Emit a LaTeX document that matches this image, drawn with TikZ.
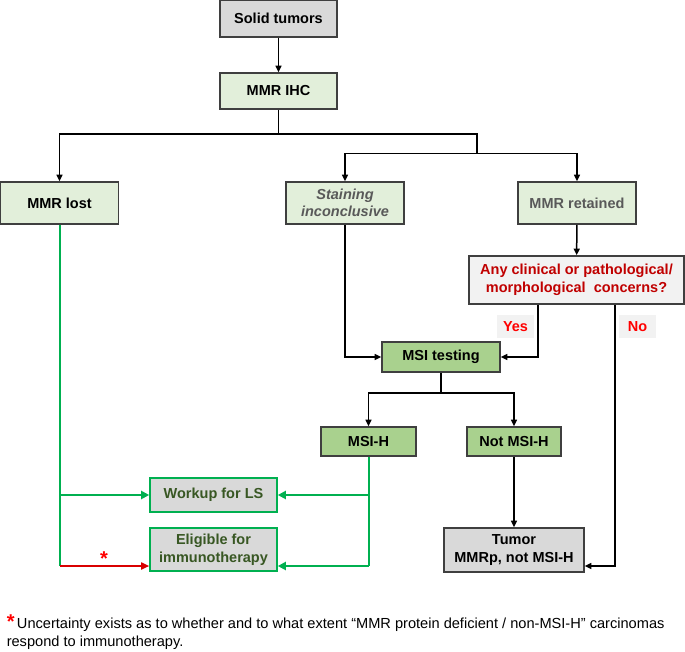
\documentclass[tikz,border=0pt]{standalone}
\usepackage{fontspec}
\setmainfont{Liberation Sans}
\usetikzlibrary{positioning,arrows.meta,calc}
\definecolor{boxgray}{HTML}{D9D9D9}
\definecolor{palegreen}{HTML}{E2EFDA}
\definecolor{midgreen}{HTML}{A9D18E}
\definecolor{askgray}{HTML}{F2F2F2}
\definecolor{edgegray}{HTML}{3F3F3F}
\definecolor{textgray}{HTML}{595959}
\definecolor{darkred}{HTML}{C00000}
\definecolor{leafgreen}{HTML}{00B050}
\definecolor{textgreen}{HTML}{385723}
\tikzset{
  >={Triangle[length=6.5pt,width=6pt]},
}
\newcommand{\boxfont}{\fontsize{14.5}{17.5}\selectfont\bfseries}
\newcommand{\notefont}{\fontsize{14.6}{18}\selectfont}

\begin{document}
\begin{tikzpicture}[
x=1pt, y=-1pt,
line width=1.5pt,
box/.style={draw=edgegray, line width=1.6pt, inner sep=1pt, align=center, font=\boxfont},
graybox/.style={box, fill=boxgray},
lightbox/.style={box, fill=palegreen},
greenbox/.style={box, fill=midgreen},
outbox/.style={box, draw=leafgreen, fill=boxgray, text=textgreen},
tag/.style={fill=askgray, text=red, font=\boxfont, minimum width=37pt, minimum height=23pt, inner sep=0pt},
greenline/.style={draw=leafgreen, line width=2pt, >={Triangle[length=8pt,width=8pt]}},
redline/.style={draw=red!85!black, line width=1.7pt, >={Triangle[length=8pt,width=7pt]}}
]
\useasboundingbox (0,0) rectangle (685,651);

% top of the tree
\node[graybox, minimum width=117pt, minimum height=37pt] (solid) at (278.5,18.5) {Solid tumors};
\node[lightbox, minimum width=117pt, minimum height=36pt] (ihc) at (278.5,91) {MMR IHC};
\node[lightbox, minimum width=118pt, minimum height=42pt] (lost) at (59.5,203) {MMR lost};
\node[lightbox, minimum width=118pt, minimum height=42pt, text=textgray] (stain) at (345,203) {\itshape Staining\\\itshape inconclusive};
\node[lightbox, minimum width=118pt, minimum height=42pt, text=textgray] (retained) at (577,203) {MMR retained};
\node[box, fill=askgray, text=darkred, minimum width=215pt, minimum height=48pt] (concern) at (576.5,280) {Any clinical or pathological/\\morphological\ \ concerns?};
\node[tag] (yes) at (515.5,326.5) {Yes};
\node[tag] (no) at (637.5,326.5) {No};

% MSI branch
\node[greenbox, minimum width=118pt, minimum height=30pt] (msi) at (441,357) {MSI testing};
\node[greenbox, minimum width=95pt, minimum height=29pt] (msih) at (368.5,441.5) {MSI-H};
\node[greenbox, minimum width=94pt, minimum height=29pt] (notmsih) at (514,441.5) {Not MSI-H};
\node[graybox, minimum width=140pt, minimum height=44pt] (tumor) at (514,550) {Tumor\\MMRp, not MSI-H};

% outcomes
\node[outbox, minimum width=127pt, minimum height=34pt] (workup) at (213.5,495) {Workup for LS};
\node[outbox, minimum width=127pt, minimum height=43pt, below=14.5pt of workup] (eligible) {Eligible for\\immunotherapy};

\coordinate (fork) at (278.5,134);
\coordinate (fork2) at (477,153.5);
\coordinate (fork3) at (441,393);
\coordinate (redstart) at (59.5,566);
\coordinate (greenend) at (368.5,566);

\draw[->] (solid) -- (ihc);
\draw (ihc) -- (fork);
\draw[->] (fork) -| (lost);
\draw (fork) -| (fork2);
\draw[->] (fork2) -| (stain);
\draw[->] (fork2) -| (retained);
\draw[->] (retained) -- (concern);
\draw[->] (stain) |- (msi);
\draw[->] ([xshift=-38.5pt]concern.south) |- (msi);
\draw[->] ([xshift=38.5pt]concern.south) |- (tumor.east |- redstart);
\draw (msi) -- (fork3);
\draw[->] (fork3) -| (msih);
\draw[->] (fork3) -| (notmsih);
\draw[->] (notmsih) -- (tumor);

% green and red paths
\draw[greenline] (lost) -- (redstart);
\draw[greenline,->,line width=2.6pt] (lost |- workup) -- (workup);
\draw[redline,->] (redstart) -- (eligible.west |- redstart);
\draw[greenline] (msih) -- (greenend);
\draw[greenline,->,line width=2.6pt] (msih |- workup) -- (workup);
\draw[greenline,->,line width=2.6pt] (greenend) -- (eligible.east |- greenend);
\node[text=red, font=\fontsize{20}{20}\selectfont\bfseries] (star) at (104,559) {*};

% footnote
\node[anchor=base west, inner sep=0pt, font=\notefont] (note) at (6,628) {{\color{red}\fontsize{20}{20}\selectfont\bfseries *}\,Uncertainty exists as to whether and to what extent “MMR protein deficient / non-MSI-H” carcinomas};
\node[anchor=base west, inner sep=0pt, font=\notefont] (note2) at (6,646) {respond to immunotherapy.};
\end{tikzpicture}
\end{document}
